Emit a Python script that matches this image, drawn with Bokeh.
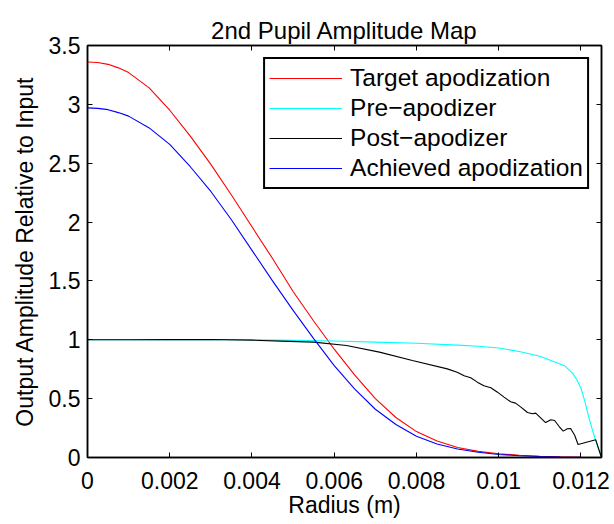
from bokeh.plotting import figure
from bokeh.models import Range1d, FixedTicker, LinearAxis
from bokeh.embed import file_html
from bokeh.resources import INLINE

FONT = "Liberation Sans"

# ---- data ----
r_grid = [0.0, 0.00025, 0.0005, 0.00075, 0.001, 0.0015, 0.002, 0.0025, 0.003, 0.0035,
          0.004, 0.0045, 0.005, 0.0055, 0.006, 0.0065, 0.007, 0.0075, 0.008, 0.0085,
          0.009, 0.0095, 0.010, 0.0105, 0.011, 0.0115, 0.012, 0.0125]
target = [3.36, 3.355, 3.34, 3.31, 3.27, 3.14, 2.95, 2.73, 2.49, 2.23,
          1.96, 1.69, 1.41, 1.16, 0.92, 0.70, 0.50, 0.34, 0.22, 0.14,
          0.085, 0.052, 0.032, 0.019, 0.010, 0.005, 0.002, 0.0]
achieved = [2.97, 2.966, 2.955, 2.93, 2.90, 2.80, 2.66, 2.47, 2.26, 2.02,
            1.76, 1.50, 1.25, 1.01, 0.78, 0.58, 0.41, 0.28, 0.18, 0.115,
            0.072, 0.044, 0.026, 0.015, 0.008, 0.004, 0.001, 0.0]

r_pre = [0.0, 0.001, 0.002, 0.003, 0.004, 0.005, 0.006, 0.007, 0.008, 0.009,
         0.0095, 0.010, 0.0105, 0.011, 0.0113, 0.0116, 0.0118, 0.0119, 0.0120,
         0.0121, 0.0122, 0.0123, 0.0124, 0.0125]
pre_apod = [1.0, 1.0, 1.0, 1.0, 1.0, 0.995, 0.99, 0.98, 0.97, 0.955,
            0.945, 0.93, 0.90, 0.86, 0.82, 0.78, 0.715, 0.66, 0.59,
            0.47, 0.33, 0.21, 0.10, 0.0]

r_post = [0.0, 0.001, 0.002, 0.003, 0.004, 0.0047, 0.0055, 0.0063, 0.0071, 0.0079,
          0.00875, 0.00899, 0.00916, 0.00932, 0.00948, 0.00964, 0.00981, 0.00997,
          0.01013, 0.01029, 0.01041, 0.01054, 0.0107, 0.01082, 0.0109, 0.01102,
          0.01114, 0.01127, 0.01136, 0.01147, 0.01157, 0.01167, 0.01175, 0.01185,
          0.01193, 0.01236, 0.0125]
post_apod = [1.0, 1.0, 1.001, 1.002, 0.997, 0.989, 0.98, 0.951, 0.895, 0.824,
             0.753, 0.725, 0.694, 0.677, 0.640, 0.609, 0.592, 0.555,
             0.513, 0.473, 0.462, 0.428, 0.382, 0.371, 0.377, 0.337,
             0.297, 0.320, 0.314, 0.263, 0.224, 0.244, 0.246, 0.187,
             0.110, 0.150, 0.0]

x_ticks = [0.0, 0.002, 0.004, 0.006, 0.008, 0.010, 0.012]
x_tick_labels = ["0", "0.002", "0.004", "0.006", "0.008", "0.01", "0.012"]
y_ticks = [0.0, 0.5, 1.0, 1.5, 2.0, 2.5, 3.0, 3.5]
y_tick_labels = ["0", "0.5", "1", "1.5", "2", "2.5", "3", "3.5"]

series_labels = ["Target apodization", "Pre\u2212apodizer", "Post\u2212apodizer",
                 "Achieved apodization"]

# ---- figure ----
p = figure(width=614, height=524, output_backend="svg", toolbar_location=None,
           x_range=Range1d(0, 0.0125), y_range=Range1d(0, 3.5),
           min_border_left=87, min_border_right=13, min_border_top=45,
           min_border_bottom=67, title="2nd Pupil Amplitude Map")

p.title.text_font = FONT
p.title.text_font_size = "24px"
p.title.text_font_style = "normal"
p.title.text_color = "black"
p.title.align = "center"
p.title.standoff = 4
p.title.text_line_height = 0.6

p.xgrid.visible = False
p.ygrid.visible = False
p.outline_line_color = "black"
p.outline_line_width = 1.5
p.background_fill_color = "white"
p.border_fill_color = "white"

p.line(r_grid, target, line_color="#ff0000", line_width=1.1, legend_label=series_labels[0])
p.line(r_pre, pre_apod, line_color="#00ffff", line_width=1.1, legend_label=series_labels[1])
p.line(r_post, post_apod, line_color="#000000", line_width=1.1, legend_label=series_labels[2])
p.line(r_grid, achieved, line_color="#0000ff", line_width=1.1, legend_label=series_labels[3])


def style_axis(ax, ticks, labels, show_labels):
    ax.ticker = FixedTicker(ticks=ticks)
    ax.major_tick_in = 5
    ax.major_tick_out = 0
    ax.minor_tick_line_color = None
    ax.major_tick_line_color = "black"
    ax.major_tick_line_width = 1
    ax.axis_line_color = "black"
    ax.axis_line_width = 1.5
    ax.major_label_text_font = FONT
    if show_labels:
        ax.major_label_overrides = {t: l for t, l in zip(ticks, labels)}
        ax.major_label_text_font_size = "23px"
        ax.major_label_text_color = "black"
    else:
        ax.major_label_text_font_size = "0px"
        ax.major_label_text_color = None
        ax.major_label_standoff = 0


style_axis(p.xaxis[0], x_ticks, x_tick_labels, True)
style_axis(p.yaxis[0], y_ticks, y_tick_labels, True)
p.xaxis[0].major_label_standoff = 14
p.yaxis[0].major_label_standoff = 7

p.xaxis[0].axis_label = "Radius (m)"
p.yaxis[0].axis_label = "Output Amplitude Relative to Input"
for ax in (p.xaxis[0], p.yaxis[0]):
    ax.axis_label_text_font = FONT
    ax.axis_label_text_font_size = "23px"
    ax.axis_label_text_font_style = "normal"
    ax.axis_label_text_color = "black"
p.xaxis[0].axis_label_standoff = 0
p.yaxis[0].axis_label_standoff = 8

top_ax = LinearAxis()
style_axis(top_ax, x_ticks, x_tick_labels, False)
p.add_layout(top_ax, "above")
right_ax = LinearAxis()
style_axis(right_ax, y_ticks, y_tick_labels, False)
p.add_layout(right_ax, "right")

lg = p.legend[0]
lg.location = "top_right"
lg.margin = 12
lg.padding = 4
lg.spacing = 0
lg.glyph_width = 73
lg.glyph_height = 30
lg.label_height = 30
lg.label_width = 232
lg.label_standoff = 8
lg.label_text_font = FONT
lg.label_text_font_size = "24.5px"
lg.label_text_color = "black"
lg.border_line_color = "black"
lg.border_line_alpha = 1.0
lg.border_line_width = 2
lg.background_fill_alpha = 1.0

open("out.html", "w").write(file_html(p, INLINE))
